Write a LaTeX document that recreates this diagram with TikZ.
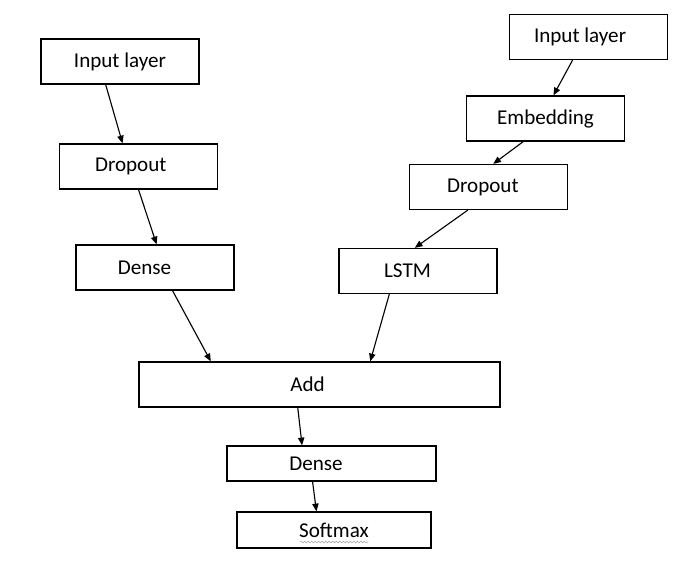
\documentclass[tikz,border=0pt]{standalone}
\usepackage{fontspec}
\setmainfont{Carlito}
\usetikzlibrary{arrows.meta,calc,decorations.pathmorphing}

\begin{document}
\begin{tikzpicture}[x=0.025cm, y=-0.025cm, >={Triangle[length=5.5pt,width=4.5pt]},
    layer/.style={draw, line width=0.9pt, minimum width=3.95cm, minimum height=1.125cm, font=\fontsize{15}{17}\selectfont, inner sep=0pt},
    txtleft/.style={execute at begin node={\hspace*{#1}}},
    conn/.style={->, line width=0.8pt}]
    \useasboundingbox (0,0) rectangle (686,564);

    % Left branch
    \node[layer] (inleft) at (120,61.5) {Input layer};
    \node[layer, txtleft=-11pt] (dropleft) at (138.5,166.5) {Dropout};
    \node[layer, txtleft=-15pt] (denseleft) at (155,267.5) {Dense};

    % Right branch
    \node[layer, txtleft=-12pt] (inright) at (588.5,37) {Input layer};
    \node[layer] (embed) at (545.5,118.5) {Embedding};
    \node[layer, txtleft=-8pt] (dropright) at (488.5,187) {Dropout};
    \node[layer, txtleft=-15pt] (lstm) at (418,271) {LSTM};

    % Merge and output
    \node[layer, minimum width=9.025cm, txtleft=-17pt] (add) at (319.5,384.5) {Add};
    \node[layer, minimum width=5.225cm, minimum height=0.875cm, txtleft=-22pt] (densebot) at (331.5,463.5) {Dense};
    \node[layer, minimum width=4.85cm, minimum height=0.9cm] (softmax) at (334,530) {Softmax};
    \draw[gray!70, line width=0.4pt, decorate, decoration={snake, amplitude=0.6pt, segment length=2.5pt}]
        ($(softmax.center)+(-34,12)$) -- ($(softmax.center)+(34,12)$);

    % Arrows
    \draw[conn] ($(inleft.south west)!0.41!(inleft.south east)$) -- ($(dropleft.north west)!0.40!(dropleft.north east)$);
    \draw[conn] ($(dropleft.south west)!0.50!(dropleft.south east)$) -- ($(denseleft.north west)!0.51!(denseleft.north east)$);
    \draw[conn] ($(denseleft.south west)!0.61!(denseleft.south east)$) -- ($(add.north west)!0.20!(add.north east)$);
    \draw[conn] ($(inright.south west)!0.40!(inright.south east)$) -- ($(embed.north west)!0.55!(embed.north east)$);
    \draw[conn] ($(embed.south west)!0.36!(embed.south east)$) -- ($(dropright.north west)!0.53!(dropright.north east)$);
    \draw[conn] ($(dropright.south west)!0.37!(dropright.south east)$) -- ($(lstm.north west)!0.48!(lstm.north east)$);
    \draw[conn] ($(lstm.south west)!0.32!(lstm.south east)$) -- ($(add.north west)!0.64!(add.north east)$);
    \draw[conn] ($(add.south west)!0.44!(add.south east)$) -- ($(densebot.north west)!0.36!(densebot.north east)$);
    \draw[conn] ($(densebot.south west)!0.41!(densebot.south east)$) -- ($(softmax.north west)!0.41!(softmax.north east)$);
\end{tikzpicture}
\end{document}
